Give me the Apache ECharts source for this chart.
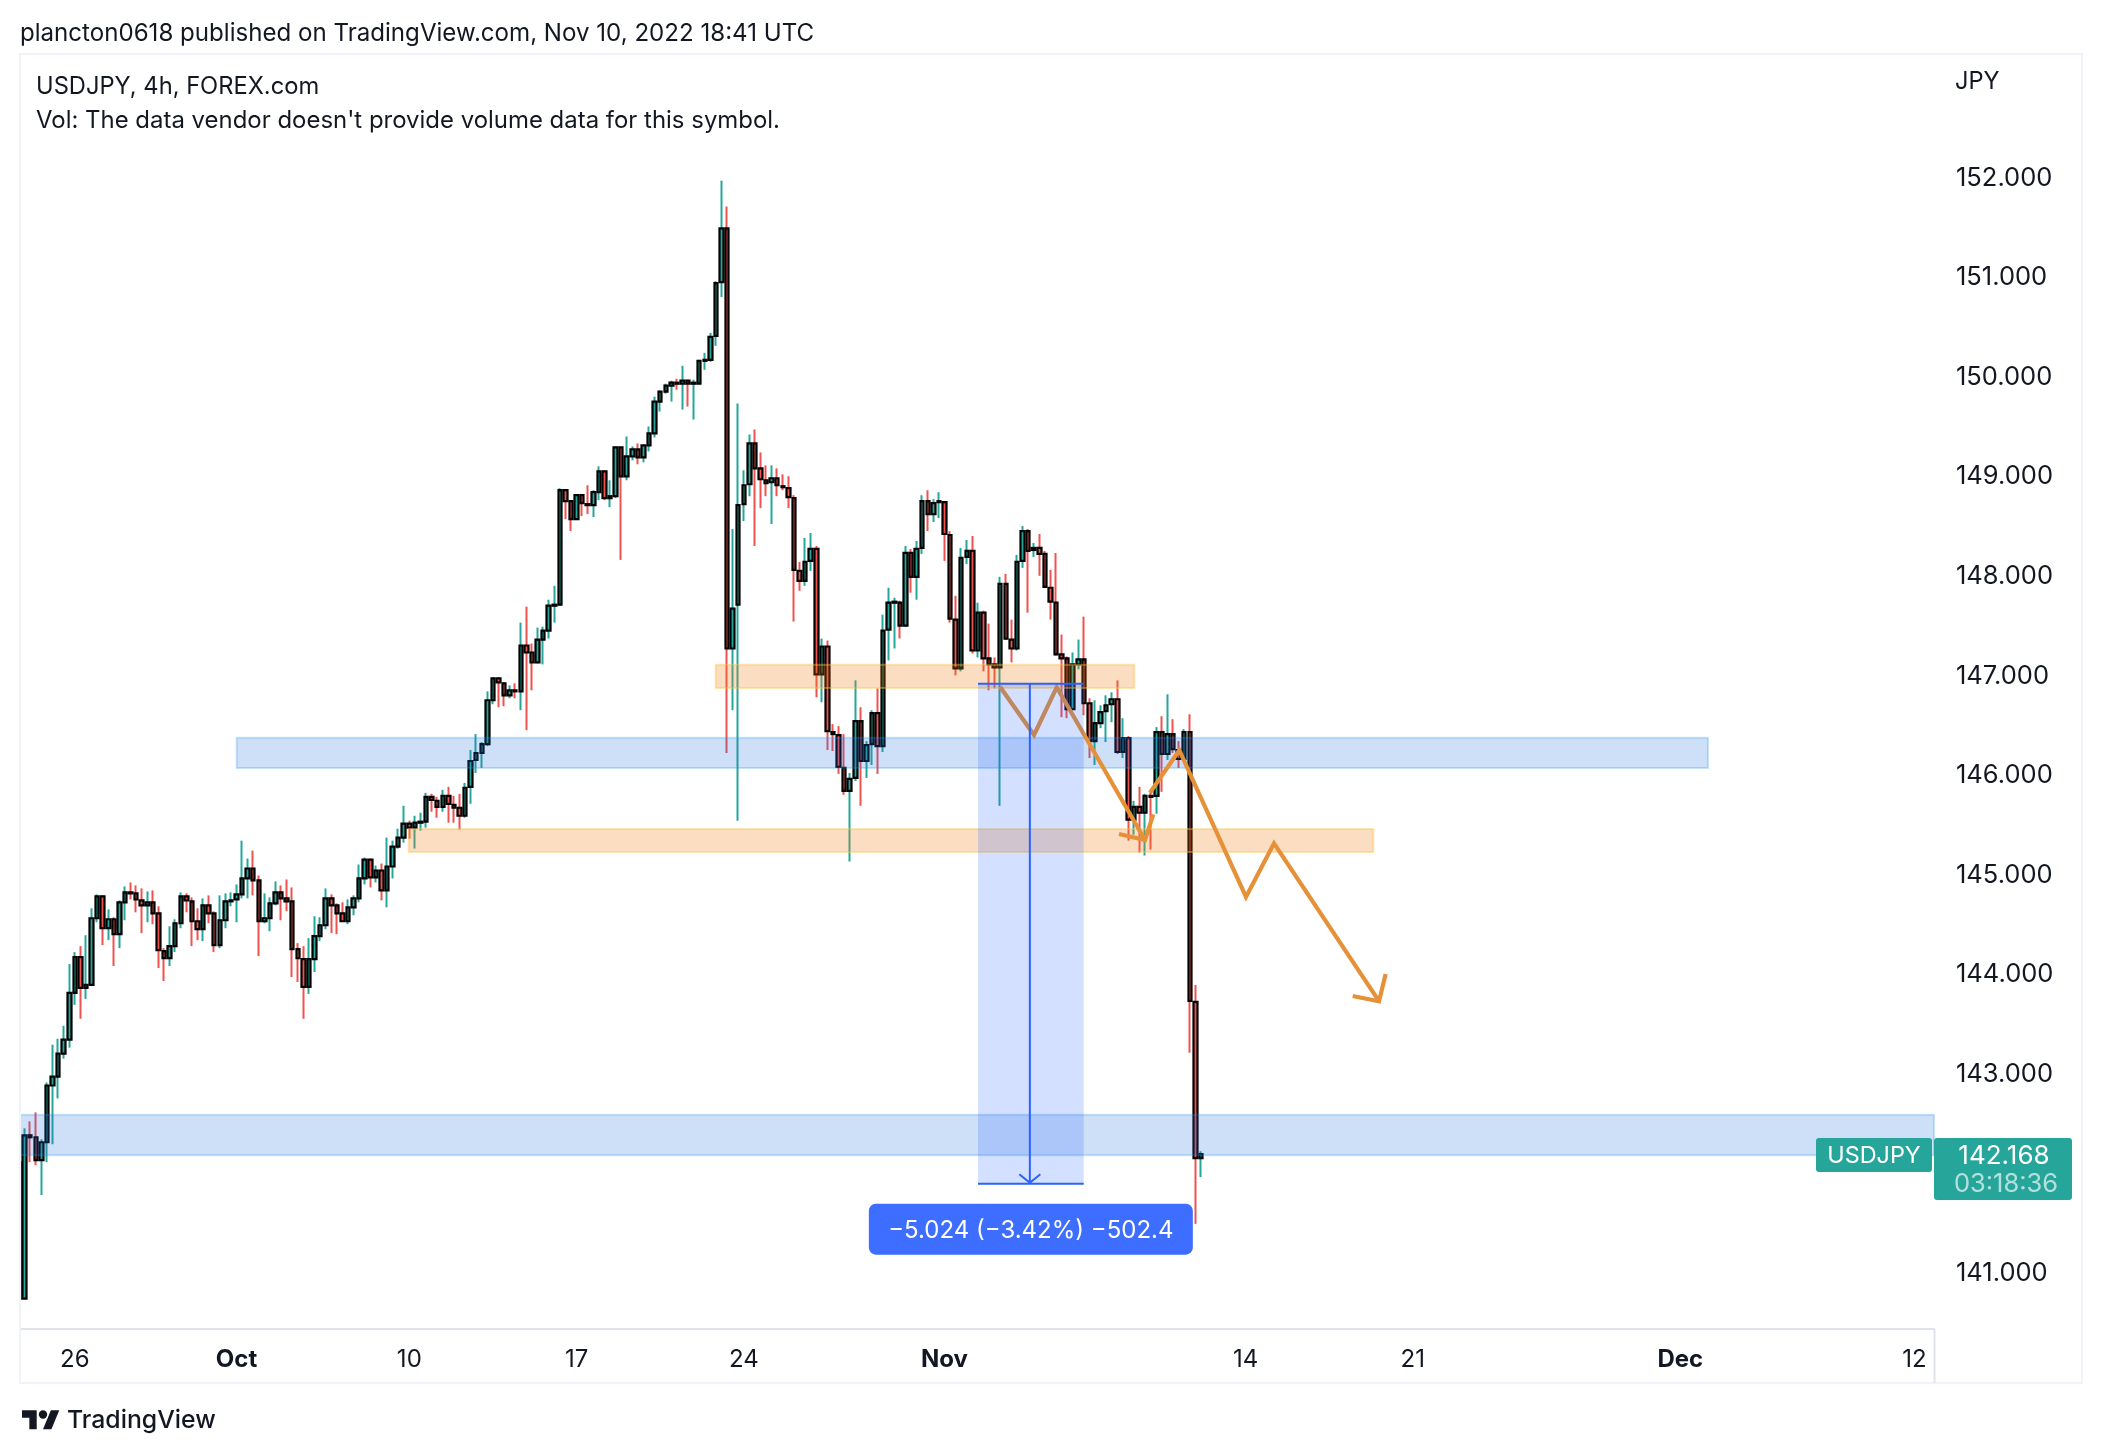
<!DOCTYPE html>
<html><head><meta charset="utf-8">
<style>html,body{margin:0;padding:0;background:#fff}#c{width:2102px;height:1454px}</style>
<script src="https://cdn.jsdelivr.net/npm/echarts@6/dist/echarts.min.js"></script>
</head><body><div id="c"></div>
<script>
const opens=[142.09,140.72,142.36,142.34,142.11,142.29,142.86,142.95,143.18,143.32,
143.79,144.15,143.84,143.87,144.54,144.76,144.44,144.53,144.38,144.70,
144.80,144.79,144.72,144.67,144.70,144.59,144.21,144.14,144.26,144.49,
144.76,144.71,144.51,144.43,144.67,144.59,144.27,144.52,144.71,144.73,
144.78,144.94,145.04,144.92,144.51,144.54,144.69,144.80,144.74,144.71,
144.23,144.13,143.85,144.13,144.36,144.47,144.74,144.67,144.59,144.51,
144.65,144.74,144.94,145.13,144.95,145.02,144.82,145.06,145.26,145.35,
145.49,145.45,145.50,145.51,145.76,145.72,145.66,145.77,145.68,145.65,
145.57,145.86,146.13,146.20,146.29,146.73,146.95,146.90,146.78,146.83,
146.82,147.28,147.21,147.11,147.34,147.43,147.68,147.69,148.84,148.73,
148.55,148.79,148.70,148.69,148.82,149.03,148.76,148.78,149.27,148.98,
149.18,149.25,149.17,149.29,149.41,149.73,149.83,149.89,149.92,149.91,
149.94,149.91,149.91,150.14,150.15,150.39,150.93,151.47,147.25,147.69,
148.70,148.90,149.31,149.06,148.94,148.92,148.96,148.88,148.86,148.76,
148.03,147.93,148.13,148.25,146.99,147.27,146.41,146.38,146.05,145.82,
145.95,146.52,146.12,146.29,146.60,146.27,147.44,147.71,147.71,147.48,
148.21,147.97,148.26,148.73,148.60,148.72,148.72,148.39,147.54,147.05,
148.17,148.23,147.23,147.61,147.15,147.09,147.06,147.90,147.34,147.25,
148.13,148.43,148.24,148.26,148.20,147.86,147.71,147.19,147.15,146.64,
147.09,147.14,146.70,146.32,146.50,146.62,146.69,146.74,146.21,146.35,
145.53,145.66,145.60,145.77,145.77,146.41,146.19,146.39,146.23,146.14,
146.41,143.70,142.13];
const closes=[140.72,142.36,142.34,142.11,142.29,142.86,142.95,143.18,143.32,143.79,
144.15,143.84,143.87,144.54,144.76,144.44,144.53,144.38,144.70,144.80,
144.79,144.73,144.67,144.70,144.59,144.22,144.14,144.26,144.49,144.76,
144.72,144.51,144.43,144.67,144.59,144.27,144.52,144.71,144.72,144.78,
144.94,145.04,144.92,144.51,144.54,144.69,144.80,144.74,144.71,144.23,
144.14,143.85,144.13,144.36,144.47,144.74,144.67,144.59,144.51,144.65,
144.74,144.94,145.13,144.95,145.02,144.82,145.06,145.26,145.35,145.49,
145.45,145.50,145.51,145.76,145.73,145.66,145.77,145.69,145.65,145.57,
145.85,146.12,146.20,146.29,146.73,146.95,146.91,146.78,146.83,146.82,
147.28,147.21,147.11,147.34,147.43,147.68,147.69,148.84,148.73,148.55,
148.79,148.71,148.69,148.82,149.03,148.76,148.78,149.27,148.98,149.18,
149.25,149.17,149.29,149.41,149.73,149.83,149.89,149.92,149.91,149.94,
149.91,149.92,150.14,150.15,150.38,150.92,151.47,147.25,147.65,148.69,
148.89,149.31,149.06,148.95,148.91,148.96,148.89,148.87,148.77,148.04,
147.93,148.12,148.25,146.99,147.27,146.42,146.39,146.06,145.82,145.94,
146.52,146.12,146.28,146.60,146.27,147.43,147.71,147.72,147.48,148.21,
147.97,148.25,148.73,148.60,148.71,148.73,148.40,147.55,147.05,148.16,
148.23,147.23,147.61,147.15,147.09,147.06,147.90,147.35,147.25,148.12,
148.43,148.23,148.26,148.20,147.87,147.72,147.19,147.15,146.64,147.09,
147.14,146.70,146.32,146.50,146.61,146.68,146.74,146.21,146.35,145.53,
145.66,145.60,145.77,145.76,146.41,146.19,146.39,146.24,146.14,146.41,
143.71,142.13,142.17];
const lows=[140.72,140.72,142.09,142.06,141.76,142.09,142.27,142.73,143.13,143.24,
143.67,143.53,143.73,143.86,144.50,144.27,144.32,144.06,144.24,144.52,
144.73,144.60,144.39,144.50,144.48,144.04,143.91,144.06,144.20,144.44,
144.60,144.26,144.32,144.31,144.49,144.20,144.24,144.44,144.66,144.50,
144.74,144.74,144.77,144.16,144.49,144.41,144.67,144.52,144.61,143.95,
143.90,143.53,143.78,144.00,144.31,144.43,144.39,144.38,144.51,144.48,
144.57,144.70,144.88,144.85,144.90,144.72,144.65,144.94,145.24,145.30,
145.34,145.24,145.42,145.45,145.61,145.55,145.61,145.50,145.50,145.43,
145.55,145.69,146.00,146.05,146.27,146.69,146.66,146.67,146.75,146.75,
146.63,146.43,146.83,147.10,147.09,147.35,147.51,147.68,148.55,148.43,
148.54,148.58,148.60,148.57,148.74,148.74,148.67,148.76,148.14,148.94,
149.14,149.10,149.12,149.23,149.37,149.63,149.81,149.73,149.85,149.65,
149.68,149.55,149.91,150.05,150.13,150.29,150.78,146.20,146.63,145.52,
148.53,148.78,148.28,148.66,148.78,148.50,148.78,148.84,148.66,147.52,
147.83,147.88,148.03,146.76,146.71,146.23,146.22,145.99,145.78,145.11,
145.92,145.67,145.95,146.08,145.99,146.21,147.13,147.25,147.35,147.47,
147.81,147.74,148.20,148.43,148.52,148.56,148.13,147.51,146.98,147.02,
148.10,147.20,147.16,147.02,146.83,146.85,145.67,147.34,147.11,147.23,
148.06,147.61,148.17,147.98,147.86,147.54,147.18,146.56,146.55,146.63,
147.04,146.58,146.15,146.08,146.45,146.31,146.51,146.19,146.15,145.32,
145.38,145.20,145.17,145.23,145.59,145.81,146.13,146.20,146.05,146.13,
143.19,141.47,141.94];
const highs=[142.09,142.43,142.50,142.59,142.32,142.89,143.27,143.33,143.46,144.08,
144.20,144.26,144.37,144.64,144.78,144.77,144.63,144.55,144.72,144.86,
144.90,144.87,144.84,144.81,144.82,144.66,144.24,144.46,144.53,144.80,
144.79,144.75,144.64,144.74,144.77,144.61,144.77,144.79,144.80,144.88,
145.32,145.14,145.22,144.97,144.79,144.75,144.91,144.87,144.93,144.85,
144.29,144.26,144.34,144.56,144.55,144.84,144.78,144.69,144.70,144.73,
144.77,145.08,145.15,145.14,145.07,145.09,145.35,145.32,145.44,145.67,
145.52,145.57,145.60,145.80,145.79,145.76,145.83,145.86,145.77,145.79,
145.90,146.23,146.39,146.31,146.82,146.96,146.96,146.91,146.88,146.90,
147.51,147.67,147.30,147.46,147.47,147.74,147.88,148.86,148.85,148.73,
148.80,148.80,148.89,148.84,149.08,149.04,148.94,149.28,149.28,149.38,
149.28,149.31,149.29,149.48,149.78,149.84,149.91,149.94,149.96,150.09,
149.95,149.95,150.15,150.22,150.42,150.94,151.95,151.69,148.45,149.71,
149.04,149.40,149.45,149.22,149.09,149.09,149.06,149.00,148.98,148.79,
148.12,148.36,148.41,148.28,147.35,147.33,146.49,146.47,146.39,146.00,
146.93,146.66,146.32,146.63,146.85,147.59,147.86,147.76,147.73,148.28,
148.25,148.33,148.79,148.84,148.75,148.82,148.73,148.43,147.78,148.26,
148.34,148.38,147.71,147.63,147.50,147.16,147.97,148.00,147.54,148.19,
148.48,148.45,148.31,148.40,148.23,148.04,148.21,147.39,147.17,147.21,
147.34,147.57,146.75,146.73,146.68,146.78,146.81,146.93,146.55,146.37,
145.72,145.86,145.79,145.81,146.46,146.57,146.79,146.54,146.32,146.44,
146.59,143.87,142.20];

const barCount=344;
const tickIndex=[10,39,70,100,130,166,220,250,298,340];
const tickLabels=['26','Oct','10','17','24','Nov','14','21','Dec','12'];
const boldTicks=['Oct','Nov','Dec'];
const priceTicks=[141,142,143,144,145,146,147,148,149,150,151,152];
// zones: [from bar, to bar, upper price, lower price]
const blueZones=[[39.53,303.46,146.354,146.05],[0,344,142.567,142.159]];
const orangeZones=[[125.46,200.55,147.087,146.853],[70.39,243.42,145.437,145.206]];
const arrowPaths=[
 [[176.46,146.866],[182.56,146.381],[186.63,146.860],[202.47,145.326]],
 [[197.80,145.387],[202.47,145.326],[203.96,145.584]],
 [[203.36,145.801],[208.62,146.228],[220.58,144.754],[225.61,145.293],[244.44,143.707]],
 [[239.72,143.759],[244.44,143.707],[245.64,143.981]]
];
const measure=[172.51,191.47,146.896,141.874];
const measureLabel='\u22125.024 (\u22123.42%) \u2212502.4';
const lastPrice='142.168', countdown='03:18:36', symbol='USDJPY';

const F='Inter, "Noto Sans", sans-serif', INK='#131722', GREEN='#26a69a', RED='#ef5350';
const categories=Array.from({length:barCount},(_,i)=>String(i));
const wickData=opens.map((o,i)=>[o,closes[i],lows[i],highs[i]]);
const bodyData=opens.map((o,i)=>[o,closes[i],Math.min(o,closes[i]),Math.max(o,closes[i])]);
const zoneData=blueZones.map(z=>z.concat(0)).concat(orangeZones.map(z=>z.concat(1)));
const zoneStyle=[{fill:'rgba(33,110,225,0.22)',stroke:'rgba(33,150,243,0.26)'},{fill:'rgba(240,125,10,0.25)',stroke:'rgba(255,193,70,0.42)'}];

const chart=echarts.init(document.getElementById('c'),null,{renderer:'canvas',width:2102,height:1454});
function txt(x,y,s,o){return {type:'text',z:101,silent:true,x,y,style:Object.assign({text:s,fill:INK,font:'24.1px '+F,textVerticalAlign:'middle'},o||{})};}
function rect(x,y,w,h,fill,r){return {type:'rect',z:100,silent:true,shape:{x,y,width:w,height:h,r:r||0},style:{fill}};}
const LOGO_X=22,LOGO_Y=1403,LOGO_K=1.05;
function lp(pts){return pts.map(p=>[LOGO_X+p[0]*LOGO_K,LOGO_Y+p[1]*LOGO_K]);}
chart.setOption({
 animation:false,backgroundColor:'#fff',
 grid:{left:16.3,right:168,top:54,bottom:125,containLabel:false},
 xAxis:[{type:'category',data:categories,boundaryGap:true,
   axisLine:{show:true,lineStyle:{color:'#e0e3eb',width:2}},axisTick:{show:false},splitLine:{show:false},
   axisLabel:{interval:i=>tickIndex.includes(i),hideOverlap:false,margin:18.5,
     formatter:(v,i)=>{const t=tickLabels[tickIndex.indexOf(i)];return t==null?'':(boldTicks.includes(t)?'{b|'+t+'}':t);},
     color:INK,fontFamily:F,fontSize:24,rich:{b:{fontWeight:'bold',fontFamily:F,fontSize:24,color:INK}}}},
   {type:'value',min:0,max:barCount,show:false}],
 yAxis:{type:'value',position:'right',min:140.414,max:153.222,scale:true,
   axisLine:{show:true,lineStyle:{color:'#e0e3eb',width:2}},axisTick:{show:false},splitLine:{show:false},
   axisLabel:{customValues:priceTicks,margin:22,verticalAlign:'top',lineHeight:5,color:INK,fontFamily:F,fontSize:25.5,formatter:v=>v.toFixed(3)}},
 series:[
  {type:'candlestick',name:'wicks',data:wickData,barWidth:1,z:2,clip:true,
   itemStyle:{color:GREEN,color0:RED,borderColor:GREEN,borderColor0:RED,borderColorDoji:RED,borderWidth:2}},
  {type:'candlestick',name:'bodies',data:bodyData,barWidth:4,z:3,clip:true,
   itemStyle:{color:GREEN,color0:RED,borderColor:'#000',borderColor0:'#000',borderColorDoji:'#000',borderWidth:2.2}},
  {type:'custom',name:'zones',xAxisIndex:1,yAxisIndex:0,z:5,silent:true,clip:true,data:zoneData,
   renderItem:(p,api)=>{const a=api.coord([api.value(0),api.value(2)]),b=api.coord([api.value(1),api.value(3)]),s=zoneStyle[api.value(4)];
     return {type:'rect',shape:{x:a[0],y:a[1],width:b[0]-a[0],height:b[1]-a[1]},style:{fill:s.fill,stroke:s.stroke,lineWidth:2}};}},
  {type:'custom',name:'arrows',xAxisIndex:1,yAxisIndex:0,z:6,silent:true,clip:false,data:arrowPaths.map((_,i)=>[i]),
   renderItem:(p,api)=>{const pts=arrowPaths[api.value(0)].map(q=>api.coord(q));
     return {type:'polyline',shape:{points:pts},style:{fill:null,stroke:'#e69138',lineWidth:4.2,lineJoin:'miter'}};}},
  {type:'custom',name:'measure',xAxisIndex:1,yAxisIndex:0,z:7,silent:true,clip:false,data:[measure],
   renderItem:(p,api)=>{const a=api.coord([api.value(0),api.value(2)]),b=api.coord([api.value(1),api.value(3)]);
     const cx=(a[0]+b[0])/2-1,B='#2962ff';
     return {type:'group',children:[
      {type:'rect',shape:{x:a[0],y:a[1],width:b[0]-a[0],height:b[1]-a[1]},style:{fill:'rgba(41,98,255,0.2)'}},
      {type:'line',shape:{x1:a[0],y1:a[1],x2:b[0],y2:a[1]},style:{stroke:B,lineWidth:2}},
      {type:'line',shape:{x1:a[0],y1:b[1],x2:b[0],y2:b[1]},style:{stroke:B,lineWidth:2}},
      {type:'line',shape:{x1:cx,y1:a[1],x2:cx,y2:b[1]},style:{stroke:B,lineWidth:2}},
      {type:'polyline',shape:{points:[[cx-10.5,b[1]-9.5],[cx,b[1]-1],[cx+10.5,b[1]-9.5]]},style:{fill:null,stroke:B,lineWidth:2}},
      {type:'rect',shape:{x:cx-161,y:b[1]+20,width:324,height:51,r:7},style:{fill:'#3d6eff'}},
      {type:'text',x:cx+1,y:b[1]+47.5,style:{text:measureLabel,fill:'#fff',font:'24px '+F,textAlign:'center',textVerticalAlign:'middle'}}
     ]};}}
 ],
 graphic:{elements:[
  rect(0,50,19,1340,'#fff'),
  rect(19,53,2,1331,'#f0f3fa'),
  rect(19,53,2064,2,'#f0f3fa'),
  rect(2081,53,2,1331,'#f0f3fa'),
  rect(19,1382,2064,2,'#f0f3fa'),
  rect(1933.5,1329,2,54,'#e0e3eb'),
  txt(20,33.5,'plancton0618 published on TradingView.com, Nov 10, 2022 18:41 UTC'),
  txt(36,87,'USDJPY, 4h, FOREX.com',{font:'23.7px '+F}),
  txt(36,120.5,"Vol: The data vendor doesn't provide volume data for this symbol.",{font:'23.95px '+F}),
  txt(1955,82,'JPY',{font:'23.6px '+F}),
  rect(1816,1138,116,34,GREEN,3),
  rect(1934,1138,138,62,GREEN,3),
  txt(1874,1156,symbol,{fill:'#fff',textAlign:'center',font:'23.4px '+F}),
  txt(2004,1156.5,lastPrice,{fill:'#fff',textAlign:'center',font:'26px '+F}),
  txt(2006,1184,countdown,{fill:'rgba(255,255,255,0.65)',textAlign:'center',font:'25.5px '+F}),
  {type:'polygon',z:101,silent:true,shape:{points:lp([[14,25],[7,25],[7,14],[0,14],[0,7],[14,7]])},style:{fill:INK}},
  {type:'polygon',z:101,silent:true,shape:{points:lp([[28,25],[20,25],[27.5,7],[35.5,7]])},style:{fill:INK}},
  {type:'circle',z:101,silent:true,shape:{cx:LOGO_X+20*LOGO_K,cy:LOGO_Y+11*LOGO_K,r:4*LOGO_K},style:{fill:INK}},
  txt(67,1420.5,'TradingView',{font:'500 24.8px '+F})
 ]}
});
</script></body></html>
